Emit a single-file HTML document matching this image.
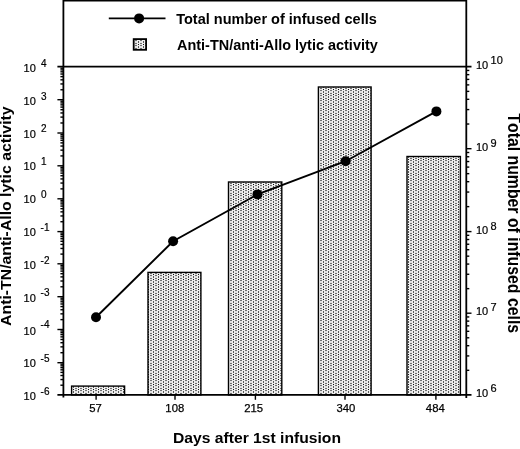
<!DOCTYPE html>
<html><head><meta charset="utf-8"><title>Chart</title>
<style>html,body{margin:0;padding:0;background:#fff;}svg{display:block;font-family:"Liberation Sans",Arial,sans-serif;}</style>
</head><body>
<svg width="520" height="449" viewBox="0 0 520 449">
<defs><pattern id="dots" x="3" y="4" width="5" height="5" patternUnits="userSpaceOnUse"><rect x="0" y="0" width="5" height="5" fill="#efefef"/><rect x="2" y="0" width="2" height="5" fill="#e2e2e2"/><rect x="0" y="0" width="1" height="1" fill="#111"/><rect x="0" y="2" width="1" height="2" fill="#5a5a5a"/><rect x="2" y="1" width="2" height="1" fill="#707070"/><rect x="2" y="4" width="2" height="1" fill="#707070"/></pattern></defs>
<rect x="0" y="0" width="520" height="449" fill="#fff"/>
<rect x="71.60" y="386.10" width="53.00" height="8.80" fill="url(#dots)" stroke="#000" stroke-width="1.4"/>
<rect x="148.00" y="272.40" width="52.90" height="122.50" fill="url(#dots)" stroke="#000" stroke-width="1.4"/>
<rect x="228.50" y="182.00" width="53.30" height="212.90" fill="url(#dots)" stroke="#000" stroke-width="1.4"/>
<rect x="318.40" y="87.00" width="52.70" height="307.90" fill="url(#dots)" stroke="#000" stroke-width="1.4"/>
<rect x="407.00" y="156.50" width="53.40" height="238.40" fill="url(#dots)" stroke="#000" stroke-width="1.4"/>
<g stroke="#000" stroke-width="1.8" fill="none" stroke-linecap="butt">
<path d="M63.4 397.5 V0.6 H466.3 V397.9"/>
<path d="M57.4 66.7 H471.5"/>
<path d="M57.4 394.9 H471.5"/>
</g>
<g stroke="#000" stroke-width="1.4" fill="none">
<path d="M60.4 89.77 H63.4"/>
<path d="M60.4 83.95 H63.4"/>
<path d="M60.4 79.83 H63.4"/>
<path d="M60.4 76.63 H63.4"/>
<path d="M60.4 74.02 H63.4"/>
<path d="M60.4 71.81 H63.4"/>
<path d="M60.4 69.90 H63.4"/>
<path d="M60.4 68.21 H63.4"/>
<path d="M57.4 99.70 H63.4"/>
<path d="M60.4 122.98 H63.4"/>
<path d="M60.4 117.11 H63.4"/>
<path d="M60.4 112.95 H63.4"/>
<path d="M60.4 109.72 H63.4"/>
<path d="M60.4 107.09 H63.4"/>
<path d="M60.4 104.86 H63.4"/>
<path d="M60.4 102.93 H63.4"/>
<path d="M60.4 101.22 H63.4"/>
<path d="M57.4 133.00 H63.4"/>
<path d="M60.4 155.93 H63.4"/>
<path d="M60.4 150.15 H63.4"/>
<path d="M60.4 146.05 H63.4"/>
<path d="M60.4 142.87 H63.4"/>
<path d="M60.4 140.28 H63.4"/>
<path d="M60.4 138.08 H63.4"/>
<path d="M60.4 136.18 H63.4"/>
<path d="M60.4 134.50 H63.4"/>
<path d="M57.4 165.80 H63.4"/>
<path d="M60.4 188.87 H63.4"/>
<path d="M60.4 183.05 H63.4"/>
<path d="M60.4 178.93 H63.4"/>
<path d="M60.4 175.73 H63.4"/>
<path d="M60.4 173.12 H63.4"/>
<path d="M60.4 170.91 H63.4"/>
<path d="M60.4 169.00 H63.4"/>
<path d="M60.4 167.31 H63.4"/>
<path d="M57.4 198.80 H63.4"/>
<path d="M60.4 221.73 H63.4"/>
<path d="M60.4 215.95 H63.4"/>
<path d="M60.4 211.85 H63.4"/>
<path d="M60.4 208.67 H63.4"/>
<path d="M60.4 206.08 H63.4"/>
<path d="M60.4 203.88 H63.4"/>
<path d="M60.4 201.98 H63.4"/>
<path d="M60.4 200.30 H63.4"/>
<path d="M57.4 231.60 H63.4"/>
<path d="M60.4 254.11 H63.4"/>
<path d="M60.4 248.44 H63.4"/>
<path d="M60.4 244.41 H63.4"/>
<path d="M60.4 241.29 H63.4"/>
<path d="M60.4 238.74 H63.4"/>
<path d="M60.4 236.59 H63.4"/>
<path d="M60.4 234.72 H63.4"/>
<path d="M60.4 233.07 H63.4"/>
<path d="M57.4 263.80 H63.4"/>
<path d="M60.4 286.80 H63.4"/>
<path d="M60.4 281.00 H63.4"/>
<path d="M60.4 276.89 H63.4"/>
<path d="M60.4 273.70 H63.4"/>
<path d="M60.4 271.10 H63.4"/>
<path d="M60.4 268.90 H63.4"/>
<path d="M60.4 266.99 H63.4"/>
<path d="M60.4 265.31 H63.4"/>
<path d="M57.4 296.70 H63.4"/>
<path d="M60.4 319.63 H63.4"/>
<path d="M60.4 313.85 H63.4"/>
<path d="M60.4 309.75 H63.4"/>
<path d="M60.4 306.57 H63.4"/>
<path d="M60.4 303.98 H63.4"/>
<path d="M60.4 301.78 H63.4"/>
<path d="M60.4 299.88 H63.4"/>
<path d="M60.4 298.20 H63.4"/>
<path d="M57.4 329.50 H63.4"/>
<path d="M60.4 352.71 H63.4"/>
<path d="M60.4 346.86 H63.4"/>
<path d="M60.4 342.71 H63.4"/>
<path d="M60.4 339.49 H63.4"/>
<path d="M60.4 336.87 H63.4"/>
<path d="M60.4 334.64 H63.4"/>
<path d="M60.4 332.72 H63.4"/>
<path d="M60.4 331.02 H63.4"/>
<path d="M57.4 362.70 H63.4"/>
<path d="M60.4 385.21 H63.4"/>
<path d="M60.4 379.54 H63.4"/>
<path d="M60.4 375.51 H63.4"/>
<path d="M60.4 372.39 H63.4"/>
<path d="M60.4 369.84 H63.4"/>
<path d="M60.4 367.69 H63.4"/>
<path d="M60.4 365.82 H63.4"/>
<path d="M60.4 364.17 H63.4"/>
<path d="M466.3 124.02 H469.3"/>
<path d="M466.3 109.58 H469.3"/>
<path d="M466.3 99.33 H469.3"/>
<path d="M466.3 91.38 H469.3"/>
<path d="M466.3 84.89 H469.3"/>
<path d="M466.3 79.40 H469.3"/>
<path d="M466.3 74.65 H469.3"/>
<path d="M466.3 70.45 H469.3"/>
<path d="M466.3 148.70 H471.5"/>
<path d="M466.3 206.64 H469.3"/>
<path d="M466.3 192.05 H469.3"/>
<path d="M466.3 181.69 H469.3"/>
<path d="M466.3 173.66 H469.3"/>
<path d="M466.3 167.09 H469.3"/>
<path d="M466.3 161.54 H469.3"/>
<path d="M466.3 156.73 H469.3"/>
<path d="M466.3 152.49 H469.3"/>
<path d="M466.3 231.60 H471.5"/>
<path d="M466.3 288.64 H469.3"/>
<path d="M466.3 274.27 H469.3"/>
<path d="M466.3 264.07 H469.3"/>
<path d="M466.3 256.16 H469.3"/>
<path d="M466.3 249.70 H469.3"/>
<path d="M466.3 244.24 H469.3"/>
<path d="M466.3 239.51 H469.3"/>
<path d="M466.3 235.33 H469.3"/>
<path d="M466.3 313.20 H471.5"/>
<path d="M466.3 370.31 H469.3"/>
<path d="M466.3 355.92 H469.3"/>
<path d="M466.3 345.71 H469.3"/>
<path d="M466.3 337.79 H469.3"/>
<path d="M466.3 331.33 H469.3"/>
<path d="M466.3 325.86 H469.3"/>
<path d="M466.3 321.12 H469.3"/>
<path d="M466.3 316.94 H469.3"/>
<path d="M96.1 394.9 V399.79999999999995"/>
<path d="M175.0 394.9 V399.79999999999995"/>
<path d="M255.4 394.9 V399.79999999999995"/>
<path d="M345.0 394.9 V399.79999999999995"/>
<path d="M435.9 394.9 V399.79999999999995"/>
</g>
<polyline fill="none" stroke="#000" stroke-width="1.9" points="96,317.25 173.1,241.25 257.5,194.4 345.6,161.25 436.4,111.4"/>
<circle cx="96" cy="317.25" r="5" fill="#000"/>
<circle cx="173.1" cy="241.25" r="5" fill="#000"/>
<circle cx="257.5" cy="194.4" r="5" fill="#000"/>
<circle cx="345.6" cy="161.25" r="5" fill="#000"/>
<circle cx="436.4" cy="111.4" r="5" fill="#000"/>
<path d="M108.8 18.4 H165.5" stroke="#000" stroke-width="1.7"/>
<circle cx="139.1" cy="18.4" r="5" fill="#000"/>
<rect x="133.7" y="39.1" width="12.4" height="10.7" fill="url(#dots)" stroke="#000" stroke-width="1.8"/>
<g font-weight="bold" font-size="14.35px" fill="#000">
<text x="176.2" y="23.6" textLength="200.6" lengthAdjust="spacingAndGlyphs">Total number of infused cells</text>
<text x="177" y="49.8" textLength="200.8" lengthAdjust="spacingAndGlyphs">Anti-TN/anti-Allo lytic activity</text>
</g>
<g font-size="11px" fill="#000" stroke="#000" stroke-width="0.2">
<text x="23.6" y="72.00">10</text>
<text x="41" y="67.20" font-size="10px">4</text>
<text x="23.6" y="104.82">10</text>
<text x="41" y="100.02" font-size="10px">3</text>
<text x="23.6" y="137.64">10</text>
<text x="41" y="132.34" font-size="10px">2</text>
<text x="23.6" y="170.46">10</text>
<text x="41" y="165.36" font-size="10px">1</text>
<text x="23.6" y="203.28">10</text>
<text x="41" y="198.48" font-size="10px">0</text>
<text x="23.6" y="236.10">10</text>
<text x="40.6" y="230.90" font-size="10px">-1</text>
<text x="23.6" y="268.92">10</text>
<text x="40.6" y="263.52" font-size="10px">-2</text>
<text x="23.6" y="301.74">10</text>
<text x="40.6" y="296.24" font-size="10px">-3</text>
<text x="23.6" y="334.56">10</text>
<text x="40.6" y="328.26" font-size="10px">-4</text>
<text x="23.6" y="367.38">10</text>
<text x="40.6" y="361.78" font-size="10px">-5</text>
<text x="23.6" y="400.20">10</text>
<text x="40.6" y="394.80" font-size="10px">-6</text>
<text x="475.9" y="69.00">10</text>
<text x="490.6" y="64.30">10</text>
<text x="475.9" y="151.30">10</text>
<text x="490.6" y="146.80">9</text>
<text x="475.9" y="233.90">10</text>
<text x="490.6" y="229.70">8</text>
<text x="475.9" y="315.20">10</text>
<text x="490.6" y="311.30">7</text>
<text x="475.9" y="397.30">10</text>
<text x="490.6" y="392.00">6</text>
</g>
<g font-size="11.3px" fill="#000" stroke="#000" stroke-width="0.25" text-anchor="middle">
<text x="95.6" y="411.5">57</text>
<text x="174.8" y="411.5">108</text>
<text x="253.6" y="411.5">215</text>
<text x="345.9" y="411.5">340</text>
<text x="435.3" y="411.5">484</text>
</g>
<g font-weight="bold" font-size="15.7px" fill="#000">
<text font-size="15.4px" x="173.0" y="442.9" textLength="168" lengthAdjust="spacingAndGlyphs">Days after 1st infusion</text>
<text font-size="14.9px" transform="translate(11.2 325.9) rotate(-90) scale(1 1.04)" textLength="219.5" lengthAdjust="spacingAndGlyphs">Anti-TN/anti-Allo lytic activity</text>
<text font-size="15.9px" style="font-kerning:none" transform="translate(507.9 113.3) rotate(90) scale(1 1.17)" textLength="219.8" lengthAdjust="spacingAndGlyphs">Total number of infused cells</text>
</g>
</svg></body></html>
